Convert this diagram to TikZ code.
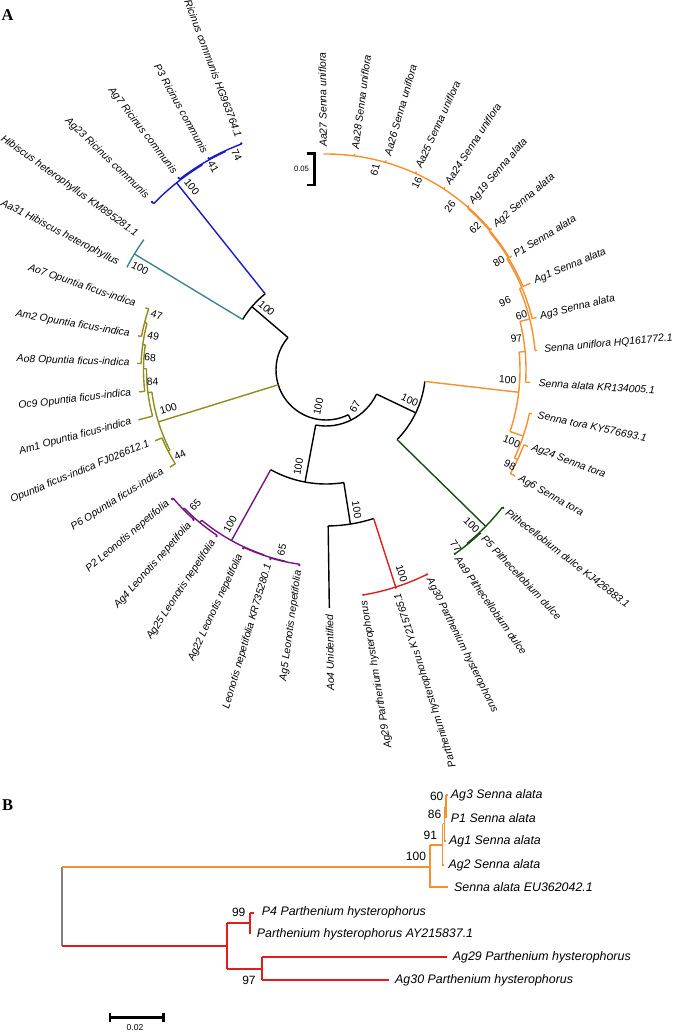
\documentclass[tikz,border=0pt]{standalone}
\usepackage{fontspec}
\setmainfont{Liberation Sans}
\newfontfamily\serifbold{Liberation Serif}
\definecolor{cBlue}{RGB}{25,25,200}
\definecolor{cTeal}{RGB}{60,135,140}
\definecolor{cOlive}{RGB}{145,140,30}
\definecolor{cPurp}{RGB}{120,20,130}
\definecolor{cRed}{RGB}{225,30,30}
\definecolor{cGreen}{RGB}{25,75,25}
\definecolor{cOrange}{RGB}{245,145,45}
\definecolor{cGray}{RGB}{130,130,130}
\newcommand\tArc[4]{\draw[#1] (#2:#4pt) arc[start angle=#2, end angle=#3, radius=#4pt];}
\newcommand\tRad[4]{\draw[#1] (#2:#3pt) -- (#2:#4pt);}
\newcommand\tDot[3]{\fill[#1] (#2:#3pt) circle[radius=1.3pt];}
\newcommand\lR[4]{\node[leaf, anchor=west, rotate=#2] (#1) at (#2:#3pt) {#4};}
\newcommand\lL[4]{\node[leaf, anchor=east, rotate=#2+180] (#1) at (#2:#3pt) {#4};}
\newcommand\bsA[5]{\node[bsv, rotate=#5] (#1) at (#2:#3pt) {#4};}
\begin{document}
\begin{tikzpicture}[x=1pt,y=1pt,
  tl/.style={line width=1.4pt, line join=round},
  bl/.style={line width=1.8pt},
  leaf/.style={font=\fontsize{10.4}{12}\selectfont\itshape, inner sep=0.5pt},
  bsv/.style={font=\fontsize{10.4}{12}\selectfont, inner sep=0pt},
  leafB/.style={font=\fontsize{12.4}{14}\selectfont\itshape, inner sep=0pt, anchor=west},
  bsB/.style={font=\fontsize{12}{14}\selectfont, inner sep=0pt},
  panel/.style={font=\serifbold\bfseries\fontsize{16.5}{18}\selectfont, inner sep=0pt}]
\useasboundingbox (-326,-662) rectangle (346,370);
% ---------------- Panel A: circular tree ----------------
% root
\tArc{tl}{139.5}{296.5}{50}
% Ricinus + Hibiscus
\tRad{tl}{139.5}{50}{97.5}
\tArc{tl}{128.6}{148.8}{97.5}
\tRad{tl,cBlue}{128.6}{97.5}{239.5}
\tArc{tl,cBlue}{121.1}{136}{239.5}
\tRad{tl,cBlue}{136}{239.5}{242}
\tRad{tl,cBlue}{121.1}{239.5}{240.5}
\tArc{tl,cBlue}{114.75}{127.5}{240.5}
\tRad{tl,cBlue}{127.5}{240.5}{242}
\tRad{tl,cBlue}{114.75}{240.5}{241.3}
\tArc{tl,cBlue}{110.5}{119}{241.3}
\tRad{tl,cBlue}{119}{241.3}{242}
\tRad{tl,cBlue}{110.5}{241.3}{242}
\tDot{cBlue}{136}{242}\tDot{cBlue}{127.5}{242}\tDot{cBlue}{119}{242}\tDot{cBlue}{110.5}{242}
\tRad{tl,cTeal}{148.8}{97.5}{224}
\tArc{tl,cTeal}{144.4}{152.7}{224}
% Opuntia
\tRad{tl,cOlive}{197.2}{50}{175.5}
\tArc{tl,cOlive}{187.25}{207.2}{175.5}
\tRad{tl,cOlive}{187.25}{175.5}{179.5}
\tArc{tl,cOlive}{179.6}{194.9}{179.5}
\tRad{tl,cOlive}{194.9}{179.5}{194}
\tRad{tl,cOlive}{179.6}{179.5}{182.5}
\tArc{tl,cOlive}{172.1}{186.7}{182.5}
\tRad{tl,cOlive}{186.7}{182.5}{188}
\tRad{tl,cOlive}{172.1}{182.5}{185}
\tArc{tl,cOlive}{165.35}{178}{185}
\tRad{tl,cOlive}{178}{185}{189}
\tRad{tl,cOlive}{165.35}{185}{187.5}
\tArc{tl,cOlive}{161}{169.7}{187.5}
\tRad{tl,cOlive}{169.7}{187.5}{191}
\tRad{tl,cOlive}{161}{187.5}{191}
\tRad{tl,cOlive}{207.2}{175.5}{177.5}
\tArc{tl,cOlive}{202.5}{211.9}{177.5}
\tRad{tl,cOlive}{202.5}{177.5}{185}
\tRad{tl,cOlive}{211.9}{177.5}{184}
% node 67 and lower part
\tRad{tl}{-63.5}{50}{56}
\tArc{tl}{-100.6}{-25.5}{56}
\tRad{tl}{-100.6}{56}{114}
\tArc{tl}{-119}{-81}{114}
% Leonotis
\tRad{tl,cPurp}{-119}{114}{195}
\tArc{tl,cPurp}{-129.6}{-108.5}{195}
\tArc{tl,cPurp}{-114.9}{-102.1}{195.5}
\tRad{tl,cPurp}{-114.9}{195.5}{196.6}
\tRad{tl,cPurp}{-102.1}{195.5}{196}
\tArc{tl,cPurp}{-106.4}{-97.8}{196}
\tRad{tl,cPurp}{-97.8}{196}{197}
\tRad{tl,cPurp}{-106.4}{196}{197}
\tRad{tl,cPurp}{-129.6}{195}{198}
\tArc{tl,cPurp}{-135.75}{-123.4}{198}
\tRad{tl,cPurp}{-123.4}{198}{199}
\tRad{tl,cPurp}{-135.75}{198}{199.5}
\tArc{tl,cPurp}{-140}{-131.5}{199.5}
\tRad{tl,cPurp}{-131.5}{199.5}{200}
\tRad{tl,cPurp}{-140}{199.5}{201}
\tDot{cPurp}{-97.8}{197}\tDot{cPurp}{-106.4}{197}\tDot{cPurp}{-114.9}{196.6}
\tDot{cPurp}{-123.4}{199}\tDot{cPurp}{-131.5}{200}\tDot{cPurp}{-140}{201}
% Ao4 + Parthenium
\tRad{tl}{-81}{114}{156}
\tArc{tl}{-89.2}{-72.2}{156}
\tRad{tl}{-89.2}{156}{238}
\tRad{tl,cRed}{-72.2}{156}{228}
\tArc{tl,cRed}{-80.6}{-63.7}{228}
\tDot{cRed}{-80.6}{228}\tDot{cRed}{-63.7}{228}\tDot{cRed}{-72.2}{228.5}
% Senna + Pithecellobium
\tRad{tl}{-25.5}{56}{99.5}
\tArc{tl}{-44.4}{-6.6}{99.5}
\tRad{tl,cGreen}{-44.4}{99.5}{223.5}
\tArc{tl,cGreen}{-50.85}{-37.9}{223.5}
\tRad{tl,cGreen}{-37.9}{223.5}{224.5}
\tRad{tl,cGreen}{-50.85}{223.5}{224.5}
\tArc{tl,cGreen}{-55}{-46.7}{224.5}
\tDot{cGreen}{-37.9}{224.5}\tDot{cGreen}{-46.7}{224.5}\tDot{cGreen}{-55}{224.5}
\tRad{tl,cOrange}{-6.6}{99.5}{194}
\tArc{tl,cOrange}{-18.5}{5.3}{194}
\tRad{tl,cOrange}{-18.5}{194}{208}
\tArc{tl,cOrange}{-25}{-12}{208}
\tRad{tl,cOrange}{-12}{208}{210.5}
\tRad{tl,cOrange}{-25}{208}{211.5}
\tArc{tl,cOrange}{-29.3}{-20.7}{211.5}
\tRad{tl,cOrange}{-20.7}{211.5}{216}
\tRad{tl,cOrange}{-29.3}{211.5}{217}
\tRad{tl,cOrange}{5.3}{194}{200}
\tArc{tl,cOrange}{-3.5}{14.05}{200}
\tRad{tl,cOrange}{-3.5}{200}{204.5}
\tRad{tl,cOrange}{14.05}{200}{210}
\tArc{tl,cOrange}{5.3}{22.8}{210}
\tRad{tl,cOrange}{5.3}{210}{212}
\tRad{tl,cOrange}{22.8}{210}{212.5}
\tArc{tl,cOrange}{14}{31.6}{212.5}
\tRad{tl,cOrange}{14}{212.5}{217}
\tRad{tl,cOrange}{31.6}{212.5}{214}
\tArc{tl,cOrange}{23}{40.1}{214}
\tRad{tl,cOrange}{23}{214}{222}
\tRad{tl,cOrange}{40.1}{214}{215}
\tArc{tl,cOrange}{31.5}{48.7}{215}
\tRad{tl,cOrange}{31.5}{215}{218}
\tRad{tl,cOrange}{48.7}{215}{216}
\tArc{tl,cOrange}{40.5}{90.7}{216}
\foreach \a in {40.5,49,57,65.5,74,82.5}{\tRad{tl,cOrange}{\a}{216}{218}}
% leaf labels, right side
\lR{lf1}{90.7}{222.5}{Aa27 Senna uniflora}
\lR{lf2}{82.5}{222.5}{Aa28 Senna uniflora}
\lR{lf3}{74}{222.5}{Aa26 Senna uniflora}
\lR{lf4}{65.5}{222}{Aa25 Senna uniflora}
\lR{lf5}{57}{222}{Aa24 Senna uniflora}
\lR{lf6}{49}{221}{Ag19 Senna alata}
\lR{lf7}{40.5}{221.5}{Ag2 Senna alata}
\lR{lf8}{31.5}{220}{P1 Senna alata}
\lR{lf9}{23}{226}{Ag1 Senna alata}
\lR{lf10}{14}{220}{Ag3 Senna alata}
\lR{lf11}{5.3}{218.5}{Senna uniflora HQ161772.1}
\lR{lf12}{-3.5}{212.5}{Senna alata KR134005.1}
\lR{lf13}{-12}{216}{Senna tora KY576693.1}
\lR{lf14}{-20.7}{219.5}{Ag24 Senna tora}
\lR{lf15}{-29.3}{221}{Ag6 Senna tora}
\lR{lf16}{-37.9}{229}{Pithecellobium dulce KJ426883.1}
\lR{lf17}{-46.7}{229}{P5 Pithecellobium dulce}
\lR{lf18}{-55}{228.5}{Aa9 Pithecellobium dulce}
\lR{lf19}{-63.7}{232}{Ag30 Parthenium hysterophorus}
% leaf labels, left side
\lL{lf20}{-72.2}{234}{Parthenium hysterophorus KY215765.1}
\lL{lf21}{-80.6}{233.5}{Ag29 Parthenium hysterophorus}
\lL{lf22}{-89.2}{244}{Ao4 Unidentified}
\lL{lf23}{-97.8}{202}{Ag5 Leonotis nepetifolia}
\lL{lf24}{-106.4}{202}{Leonotis nepetifolia KR735280.1}
\lL{lf25}{-114.9}{203}{Ag22 Leonotis nepetifolia}
\lL{lf26}{-123.4}{204}{Ag25 Leonotis nepetifolia}
\lL{lf27}{-131.5}{205}{Ag4 Leonotis nepetifolia}
\lL{lf28}{-140}{205.5}{P2 Leonotis nepetifolia}
\lL{lf29}{211.9}{191.5}{P6 Opuntia ficus-indica}
\lL{lf30}{202.5}{191}{Opuntia ficus-indica FJ026612.1}
\lL{lf31}{194.9}{201}{Am1 Opuntia ficus-indica}
\lL{lf32}{186.7}{195.5}{Oc9 Opuntia ficus-indica}
\lL{lf33}{178}{196}{Ao8 Opuntia ficus-indica}
\lL{lf34}{169.7}{199}{Am2 Opuntia ficus-indica}
\lL{lf35}{161}{201}{Ao7 Opuntia ficus-indica}
\lL{lf36}{152.7}{233}{Aa31 Hibiscus heterophyllus}
\lL{lf37}{144.4}{232}{Hibiscus heterophyllus KM895281.1}
\lL{lf38}{136}{248}{Ag23 Ricinus communis}
\lL{lf39}{127.5}{248}{Ag7 Ricinus communis}
\lL{lf40}{119}{248}{P3 Ricinus communis}
\lL{lf41}{110.5}{248}{Ricinus communis HG963764.1}
% bootstrap values
\bsA{b1}{76.2}{206}{61}{76}
\bsA{b2}{64.1}{208}{16}{64}
\bsA{b3}{52.8}{205}{26}{53}
\bsA{b4}{43.6}{205.8}{62}{44}
\bsA{b5}{32}{204}{80}{32}
\bsA{b6}{20.9}{191.6}{96}{21}
\bsA{b7}{15.6}{203}{60}{16}
\bsA{b8}{9.4}{193}{97}{9}
\bsA{b9}{-3.1}{182}{100}{-3}
\bsA{b10}{-21.1}{199}{100}{-21}
\bsA{b11}{-27.3}{207}{98}{-27}
\bsA{b12}{-19.7}{89}{100}{-25}
\bsA{b13}{-46.8}{212.7}{100}{-45}
\bsA{b14}{-53.7}{219}{77}{-54}
\bsA{b15}{-69.6}{217}{100}{-72}
\bsA{b16}{-77.6}{143.3}{100}{-81}
\bsA{b17}{-106}{100.6}{100}{80}
\bsA{b18}{-101.8}{37.5}{100}{78}
\bsA{b19}{-51.7}{46.8}{67}{60}
\bsA{b20}{-121.8}{182}{100}{61}
\bsA{b21}{-134}{188}{65}{46}
\bsA{b22}{-103.8}{185.4}{65}{78}
\bsA{b23}{162}{178}{47}{-18}
\bsA{b24}{168.9}{176}{49}{-11}
\bsA{b25}{176}{176.4}{68}{-4}
\bsA{b26}{183.9}{173.7}{84}{4}
\bsA{b27}{193.7}{162.3}{100}{17}
\bsA{b28}{210.2}{169}{44}{27}
\bsA{b29}{151.3}{212}{100}{-29}
\bsA{b30}{133.9}{85.6}{100}{-41}
\bsA{b31}{126.2}{227.2}{100}{-52}
\bsA{b32}{119}{232.4}{41}{-61}
\bsA{b33}{112.6}{232.8}{74}{-65}
% ---------------- image-coordinate parts ----------------
\begin{scope}[shift={(-326pt,370pt)}, x=1pt, y=-1pt]
\node[panel] (labA) at (7.7,15.3) {A};
\draw[line width=2.6pt] (306.7,153.5) -- (314.5,153.5) -- (314.5,185) -- (306.7,185);
\node[font=\fontsize{7.7}{9}\selectfont, inner sep=0pt] (sbA) at (301.5,168.5) {0.05};
% Panel B
\node[panel] (labB) at (7.7,805) {B};
\coordinate (rootT) at (62.3,866.7);
\coordinate (rootB) at (62.3,946);
\draw[bl,cGray] (rootT) -- (rootB);
\draw[bl,cOrange] (rootT) -- (430,866.7);
\draw[bl,cOrange] (430,845) -- (430,887.3) -- (448.3,887.3);
\draw[bl,cOrange] (430,845) -- (442.5,845);
\draw[bl,cOrange] (442.5,823.5) -- (442.5,865) -- (444,865);
\draw[bl,cOrange] (442.5,823.5) -- (444.5,823.5);
\draw[bl,cOrange] (444.5,806.7) -- (444.5,841) -- (445.5,841);
\draw[bl,cOrange] (444.5,806.7) -- (446,806.7);
\draw[bl,cOrange] (446,795) -- (446,818.3);
\draw[bl,cOrange] (446,795) -- (448,795);
\draw[bl,cRed] (rootB) -- (226.7,946);
\draw[bl,cRed] (226.7,923.3) -- (226.7,969.3);
\draw[bl,cRed] (226.7,923.3) -- (250,923.3);
\draw[bl,cRed] (250,912.7) -- (250,934);
\draw[bl,cRed] (250,912.7) -- (254,912.7);
\draw[bl,cRed] (226.7,969.3) -- (261.7,969.3);
\draw[bl,cRed] (261.7,957) -- (261.7,980.3);
\draw[bl,cRed] (261.7,957) -- (446.7,957);
\draw[bl,cRed] (261.7,980.3) -- (389.3,980.3);
\node[leafB] (bl1) at (450.7,795) {Ag3 Senna alata};
\node[leafB] (bl2) at (450.7,818.3) {P1 Senna alata};
\node[leafB] (bl3) at (449,841) {Ag1 Senna alata};
\node[leafB] (bl4) at (448.3,865) {Ag2 Senna alata};
\node[leafB] (bl5) at (454,887.3) {Senna alata EU362042.1};
\node[leafB] (bl6) at (261.7,912.7) {P4 Parthenium hysterophorus};
\node[leafB] (bl7) at (256.7,934) {Parthenium hysterophorus AY215837.1};
\node[leafB] (bl8) at (452.7,957) {Ag29 Parthenium hysterophorus};
\node[leafB] (bl9) at (395,980.3) {Ag30 Parthenium hysterophorus};
\node[bsB] (bb1) at (436.7,796.7) {60};
\node[bsB] (bb2) at (434.5,814.3) {86};
\node[bsB] (bb3) at (430.3,835) {91};
\node[bsB] (bb4) at (416,856) {100};
\node[bsB] (bb5) at (238.7,912.7) {99};
\node[bsB] (bb6) at (249,980.7) {97};
\draw[line width=2.5pt] (110,1012.7) -- (110,1022);
\draw[line width=2.5pt] (110,1017.3) -- (163.3,1017.3);
\draw[line width=2.5pt] (163.3,1012.7) -- (163.3,1022);
\node[font=\fontsize{8.6}{10}\selectfont, inner sep=0pt] (sbB) at (135,1027.5) {0.02};
\end{scope}
\end{tikzpicture}
\end{document}
